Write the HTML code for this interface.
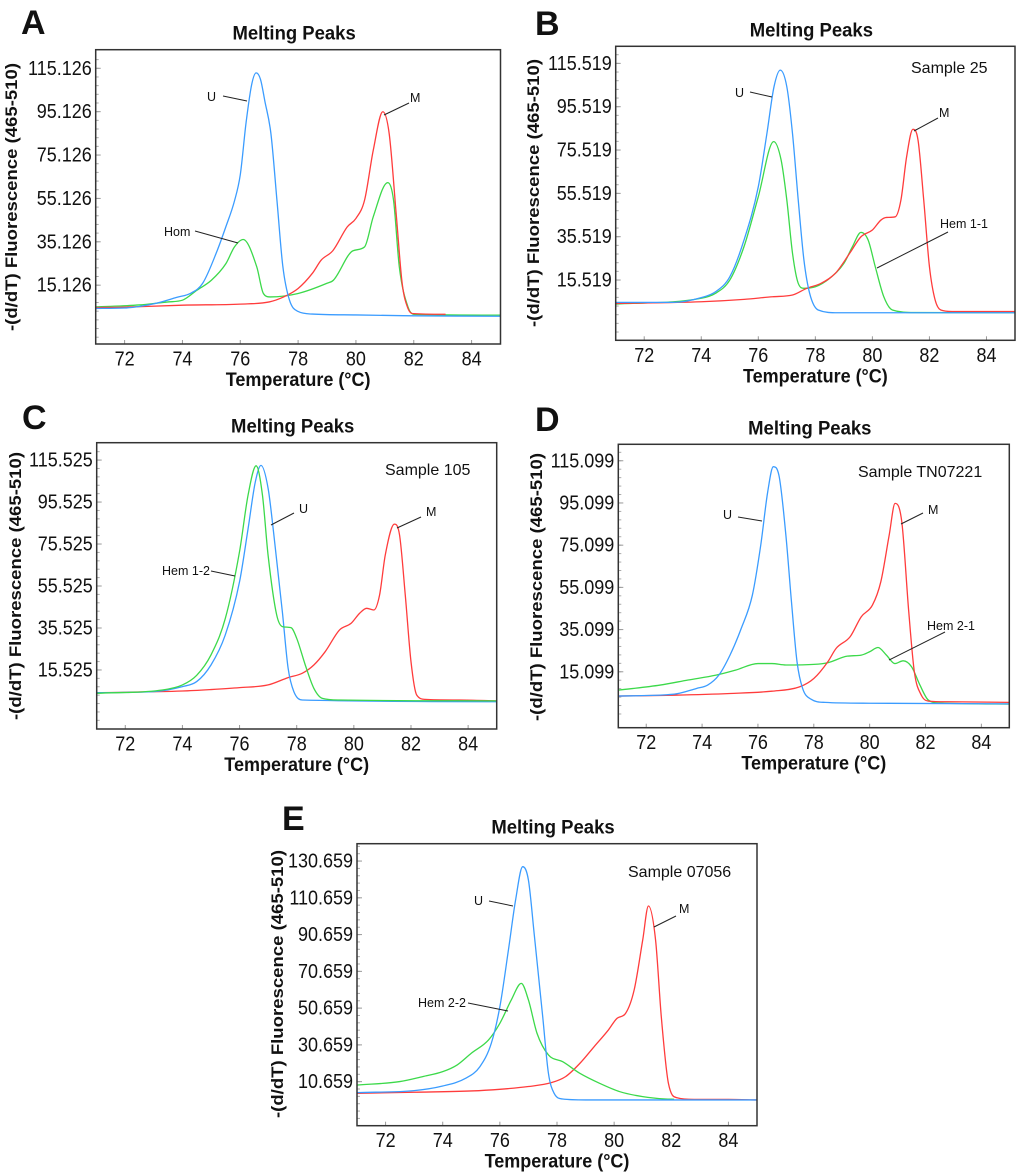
<!DOCTYPE html>
<html><head><meta charset="utf-8"><style>
html,body{margin:0;padding:0;background:#fff;}
svg{display:block;font-family:"Liberation Sans",Arial,sans-serif;}
</style></head><body>
<svg id="fig" width="1020" height="1174" viewBox="0 0 1020 1174" xmlns="http://www.w3.org/2000/svg"></svg>
<script>
// ---- data (temperature °C, -(d/dT) fluorescence) ----
const aBlueT=[71,72,73,73.8,74.3,74.7,75.2,75.5,75.8,76.0,76.2,76.4,76.55,76.7,76.85,77.06,77.27,77.47,77.7,78.0,78.5,80,82,85];
const aBlueV=[4.4,4.6,6.5,9.5,11.5,16,31,42,54,66,90,108,113,110,100,85,54,24,8.3,3,1.8,1.4,1,0.8];
const aGreenT=[71,72.5,73.5,74,74.5,75,75.5,75.8,76.1,76.57,76.8,77.03,78,79,79.22,79.9,80.3,80.6,81.1,81.3,81.5,81.8,82,85];
const aGreenV=[5.1,6,7.4,8.2,12.8,17.4,25,32.8,36.2,23.6,11.3,9.7,11.3,16,17.4,31,32.8,46.7,62.4,54.4,23.6,5.1,1.7,1.3];
const aRedT=[71,72,74,76,77,77.5,78,78.5,78.8,79.2,79.7,80,80.3,80.6,80.93,81.15,81.4,81.6,81.8,82,83.1];
const aRedV=[4.8,5,5.9,6.4,7.4,9.7,13.6,20.7,26.7,31,42,45.9,54.4,77.4,95.1,85,46.7,15.9,4.4,2,1.7];

const bBlueT=[71,73,74,74.5,75,75.5,76,76.3,76.55,76.77,77,77.2,77.4,77.6,77.8,78.1,78.8,85];
const bBlueV=[5.2,5.2,7.4,10.1,17,34,58.6,83,104.7,112.4,104.7,83,52.4,24.7,9.4,1.7,0.4,0.4];
const bGreenT=[71,74,74.5,75,75.5,76,76.54,76.8,77,77.2,77.4,77.6,78,78.5,79,79.3,79.6,79.85,80.1,80.4,80.7,81.5,85];
const bGreenV=[4.4,7.1,9.4,15.5,31,54,79.4,70.9,52.4,27.8,14,11.7,12.4,16.3,23.2,30.9,37.5,34,21.7,7.8,1.7,0.5,0.4];
const bRedT=[71,74,75.5,76.5,77.2,77.7,78.2,78.7,79.2,79.6,80,80.3,80.5,80.8,81,81.2,81.42,81.6,81.8,82,82.2,82.4,82.8,85];
const bRedV=[4.7,5.5,6.6,7.8,8.6,11.7,14,18.6,27.8,35.5,38.6,43.2,44.4,44.7,52.4,72.4,85.1,80.1,52.4,21.7,6.3,1.7,1,1];

const cBlueT=[71,73,74,74.5,75,75.5,76,76.3,76.55,76.75,77,77.2,77.5,77.7,77.9,78.2,85];
const cBlueV=[4.7,5.2,7.6,10,17.9,32.2,57.6,83,105,113,102,80,43,16.3,5.2,1.2,0.4];
const cGreenT=[71,73.3,74,74.5,75,75.5,76,76.3,76.58,76.8,77,77.3,77.5,77.8,78,78.3,78.6,78.9,79.5,85];
const cGreenV=[4.4,6,8.4,13,22.7,40,72,99,112.8,99,70,41.7,36.2,35.7,30.6,17.9,6.8,2,1.2,0.8];
const cRedT=[71,74,75,76,77,77.7,78.2,78.6,79,79.5,79.9,80.2,80.45,80.7,80.9,81.1,81.42,81.6,81.8,82,82.2,82.5,83.7,85];
const cRedV=[4.7,5.5,6.2,7.1,8.4,11.9,14,17.9,24.3,34.6,37.7,42.5,44.9,44.1,51.2,70.3,85,79.8,51.2,19.5,3.6,1.5,1.2,0.8];

const dBlueT=[71,73,73.8,74.2,74.6,75,75.4,75.8,76.1,76.35,76.55,76.75,77,77.2,77.4,77.6,77.9,78.4,80,85];
const dBlueV=[3.6,4.5,7.2,8.8,13.5,23,35.6,51.4,75.1,100.4,112.3,108.3,79.9,48.3,19.8,7.2,2.1,0.6,0.2,-0.1];
const dGreenT=[71,72.5,73.5,74.5,75.2,76,76.5,77,78,78.5,79.2,79.7,80,80.3,80.6,80.9,81.2,81.5,81.8,82.1,82.5,85];
const dGreenV=[6.4,8.8,11.2,13.5,15.9,19,19,18.3,18.6,19.4,22.5,23,24.6,26.6,23,19,20.3,17.5,8.8,1.7,0.3,-0.2];
const dRedT=[71,73,75,76.5,77.5,78,78.5,78.8,79.3,79.7,80.1,80.4,80.7,80.91,81.15,81.4,81.6,81.85,82.1,82.8,85];
const dRedV=[3.6,4,4.8,5.9,8,11.9,19.8,26.2,31.7,41.2,46.7,57.8,79.9,94.9,86.2,43.5,15.1,4,1.2,0.9,0.6];

const eBlueT=[71,73,74,74.8,75.3,75.7,76,76.3,76.55,76.8,77,77.2,77.5,77.7,77.9,78.2,79,85];
const eBlueV=[4.7,5.8,8.3,12.5,18.8,31.5,51.4,82.3,109.4,127.6,120.3,91.3,46,15.2,4.3,1.2,0.7,0.7];
const eGreenT=[71,72.5,73.3,74,74.5,75,75.6,76,76.4,76.75,77,77.3,77.7,78.2,78.8,79.5,80.2,81,81.8,82.1];
const eGreenV=[8.8,10.7,13.4,16.1,19.7,26.1,33.3,42.4,55.1,64.1,55.1,37,25.2,21.5,15.2,9.7,5.2,2.5,1.2,1.1];
const eRedT=[71,73,75,76,77,77.8,78.3,78.8,79.3,79.8,80.1,80.4,80.7,81,81.2,81.45,81.65,81.9,82.2,82.8,84,85];
const eRedV=[4.3,4.9,5.6,6.5,8,10.1,13.4,20.6,29.7,38.8,45.1,47.8,60.5,87.7,106.2,87.7,46,9.7,1.9,1,1,0.7];

const xTickVals=[72,74,76,78,80,82,84];
const xTickLabels=["72","74","76","78","80","82","84"];
const aYTicks=[15.126,35.126,55.126,75.126,95.126,115.126];
const bYTicks=[15.519,35.519,55.519,75.519,95.519,115.519];
const cYTicks=[15.525,35.525,55.525,75.525,95.525,115.525];
const dYTicks=[15.099,35.099,55.099,75.099,95.099,115.099];
const eYTicks=[10.659,30.659,50.659,70.659,90.659,110.659,130.659];
const aYLabels=aYTicks.map(v=>v.toFixed(3));
const bYLabels=bYTicks.map(v=>v.toFixed(3));
const cYLabels=cYTicks.map(v=>v.toFixed(3));
const dYLabels=dYTicks.map(v=>v.toFixed(3));
const eYLabels=eYTicks.map(v=>v.toFixed(3));

const NS="http://www.w3.org/2000/svg";
const svg=document.getElementById('fig');
const BLUE="#3b9cff",RED="#ff3c3c",GREEN="#3cd94a";
function mk(tag,attrs,parent){const e=document.createElementNS(NS,tag);for(const k in attrs)e.setAttribute(k,attrs[k]);(parent||svg).appendChild(e);return e;}
function monoPath(px,py){
  const n=px.length;const d=[],m=new Array(n);
  for(let i=0;i<n-1;i++)d.push((py[i+1]-py[i])/(px[i+1]-px[i]));
  m[0]=d[0];m[n-1]=d[n-2];
  for(let i=1;i<n-1;i++){m[i]=(d[i-1]*d[i]<=0)?0:(d[i-1]+d[i])/2;}
  for(let i=0;i<n-1;i++){if(d[i]===0){m[i]=0;m[i+1]=0;continue;}const a=m[i]/d[i],b=m[i+1]/d[i],s=a*a+b*b;if(s>9){const t=3/Math.sqrt(s);m[i]=t*a*d[i];m[i+1]=t*b*d[i];}}
  let p="M"+px[0].toFixed(2)+","+py[0].toFixed(2);
  for(let i=0;i<n-1;i++){const h=(px[i+1]-px[i])/3;p+="C"+(px[i]+h).toFixed(2)+","+(py[i]+m[i]*h).toFixed(2)+" "+(px[i+1]-h).toFixed(2)+","+(py[i+1]-m[i+1]*h).toFixed(2)+" "+px[i+1].toFixed(2)+","+py[i+1].toFixed(2);}
  return p;
}
function panel(cfg){
  const g=mk('g',{});
  
  
  const L=cfg.L,R=cfg.R,T=cfg.T,B=cfg.B;
  const xs=t=>L+(t-71)/(85-71)*(R-L);
  const ys=v=>T+(cfg.vTop-v)/(cfg.vTop-cfg.vBot)*(B-T);
  const letter=mk('text',{x:cfg.lx,y:cfg.ly,'font-size':34,'font-weight':'bold',fill:'#111'},g);letter.textContent=cfg.id.toUpperCase();
  
  const title=mk('text',{x:0,y:0,'font-size':18.5,'font-weight':'bold','text-anchor':'middle',fill:'#111',transform:`translate(${(L+R)/2-4},${T-10}) scale(1,1.05)`},g);title.textContent="Melting Peaks";
  
  for(let v=Math.ceil(cfg.vBot/4)*4;v<cfg.vTop;v+=4){const y=ys(v+ (cfg.yt[0]%4));if(y>T+2&&y<B-2)mk('line',{x1:L,x2:L+3,y1:y,y2:y,stroke:'#aaa','stroke-width':1},g);}
  cfg.yt.forEach((v,i)=>{const y=ys(v);mk('line',{x1:L,x2:L+5,y1:y,y2:y,stroke:'#999','stroke-width':1},g);
    const t=mk('text',{x:0,y:0,'font-size':18,'text-anchor':'end',fill:'#111',transform:`translate(${L-4},${y+6.5}) scale(1,1.15)`},g);t.textContent=cfg.yl[i];
    });
  xTickVals.forEach((v,i)=>{const x=xs(v);mk('line',{x1:x,x2:x,y1:B,y2:B-4,stroke:'#999','stroke-width':1},g);
    const t=mk('text',{x:0,y:0,'font-size':18,'text-anchor':'middle',fill:'#111',transform:`translate(${x},${B+21.5}) scale(1,1.15)`},g);t.textContent=xTickLabels[i];
    });
  const xt=mk('text',{x:0,y:0,'font-size':18,'font-weight':'bold','text-anchor':'middle',fill:'#111',transform:`translate(${(L+R)/2},${B+42}) scale(1,1.1)`},g);xt.textContent="Temperature (°C)";
  
  const yt=mk('text',{x:0,y:0,'font-size':17,'font-weight':'bold','text-anchor':'middle',fill:'#111',textLength:268,lengthAdjust:'spacingAndGlyphs',transform:`translate(${cfg.yax+6},${cfg.yay}) rotate(-90)`},g);yt.textContent="-(d/dT) Fluorescence (465-510)";
  
  const clipId='clip'+cfg.id;const cp=mk('clipPath',{id:clipId},g);mk('rect',{x:L,y:T,width:R-L,height:B-T},cp);
  const sg=mk('g',{'clip-path':`url(#${clipId})`},g);
  cfg.series.forEach(s=>{const p=mk('path',{d:monoPath(s.t.map(xs),s.v.map(ys)),fill:'none',stroke:s.c,'stroke-width':1.3},sg);
    });
  mk('rect',{x:L,y:T,width:R-L,height:B-T,fill:'none',stroke:'#333','stroke-width':1.5},g);
  if(cfg.sample){const s=mk('text',{x:cfg.sample[1],y:cfg.sample[2],'font-size':16,fill:'#111'},g);s.textContent=cfg.sample[0];
    }
  cfg.ann.forEach(a=>{const t=mk('text',{x:a[1],y:a[2]+5,'font-size':12.5,fill:'#111','text-anchor':a[7]||'start'},g);t.textContent=a[0];
    
    mk('line',{x1:a[3],y1:a[4],x2:a[5],y2:a[6],stroke:'#222','stroke-width':1},g);});
}
panel({id:'a',L:95.7,R:500.5,T:49.7,B:344,vTop:123.7,vBot:-12.0,yt:aYTicks,yl:aYLabels,lx:21,ly:34,yax:11,yay:197,
 series:[{name:'series-hom',t:aGreenT,v:aGreenV,c:GREEN},{name:'series-m',t:aRedT,v:aRedV,c:RED},{name:'series-u',t:aBlueT,v:aBlueV,c:BLUE}],
 ann:[["U",207,96,223,96,247,101],["M",410,97,409,103,384,115],["Hom",164,231,195,231,238,243]]});
panel({id:'b',L:615.7,R:1015,T:46.3,B:340.3,vTop:123.4,vBot:-12.3,yt:bYTicks,yl:bYLabels,lx:535,ly:35,yax:533,yay:193,sample:["Sample 25",911,73],
 series:[{name:'series-hem-1-1',t:bGreenT,v:bGreenV,c:GREEN},{name:'series-m',t:bRedT,v:bRedV,c:RED},{name:'series-u',t:bBlueT,v:bBlueV,c:BLUE}],
 ann:[["U",735,92,750,92,772,97],["M",939,112,938,118,914,131],["Hem 1-1",940,223,948,232,877,268]]});
panel({id:'c',L:96.7,R:496.7,T:442.7,B:729,vTop:123.8,vBot:-12.6,yt:cYTicks,yl:cYLabels,lx:22,ly:429,yax:15,yay:586,sample:["Sample 105",385,475],
 series:[{name:'series-m',t:cRedT,v:cRedV,c:RED},{name:'series-u',t:cBlueT,v:cBlueV,c:BLUE},{name:'series-hem-1-2',t:cGreenT,v:cGreenV,c:GREEN}],
 ann:[["U",299,508,294,513,271,525],["M",426,511,421,517,397,528],["Hem 1-2",162,570,211,571,235,576]]});
panel({id:'d',L:618.3,R:1009.3,T:444.3,B:727.7,vTop:122.9,vBot:-11.4,yt:dYTicks,yl:dYLabels,lx:535,ly:431,yax:536,yay:587,sample:["Sample TN07221",858,477],
 series:[{name:'series-hem-2-1',t:dGreenT,v:dGreenV,c:GREEN},{name:'series-m',t:dRedT,v:dRedV,c:RED},{name:'series-u',t:dBlueT,v:dBlueV,c:BLUE}],
 ann:[["U",723,514,738,517,762,521],["M",928,509,923,513,901,524],["Hem 2-1",927,625,945,632,889,660]]});
panel({id:'e',L:357,R:757,T:843.7,B:1125.7,vTop:140.1,vBot:-13.3,yt:eYTicks,yl:eYLabels,lx:282,ly:830,yax:277,yay:984,sample:["Sample 07056",628,877],
 series:[{name:'series-m',t:eRedT,v:eRedV,c:RED},{name:'series-hem-2-2',t:eGreenT,v:eGreenV,c:GREEN},{name:'series-u',t:eBlueT,v:eBlueV,c:BLUE}],
 ann:[["U",474,900,489,901,513,906],["M",679,908,676,916,654,927],["Hem 2-2",418,1002,468,1003,508,1011]]});
</script>
</body></html>
